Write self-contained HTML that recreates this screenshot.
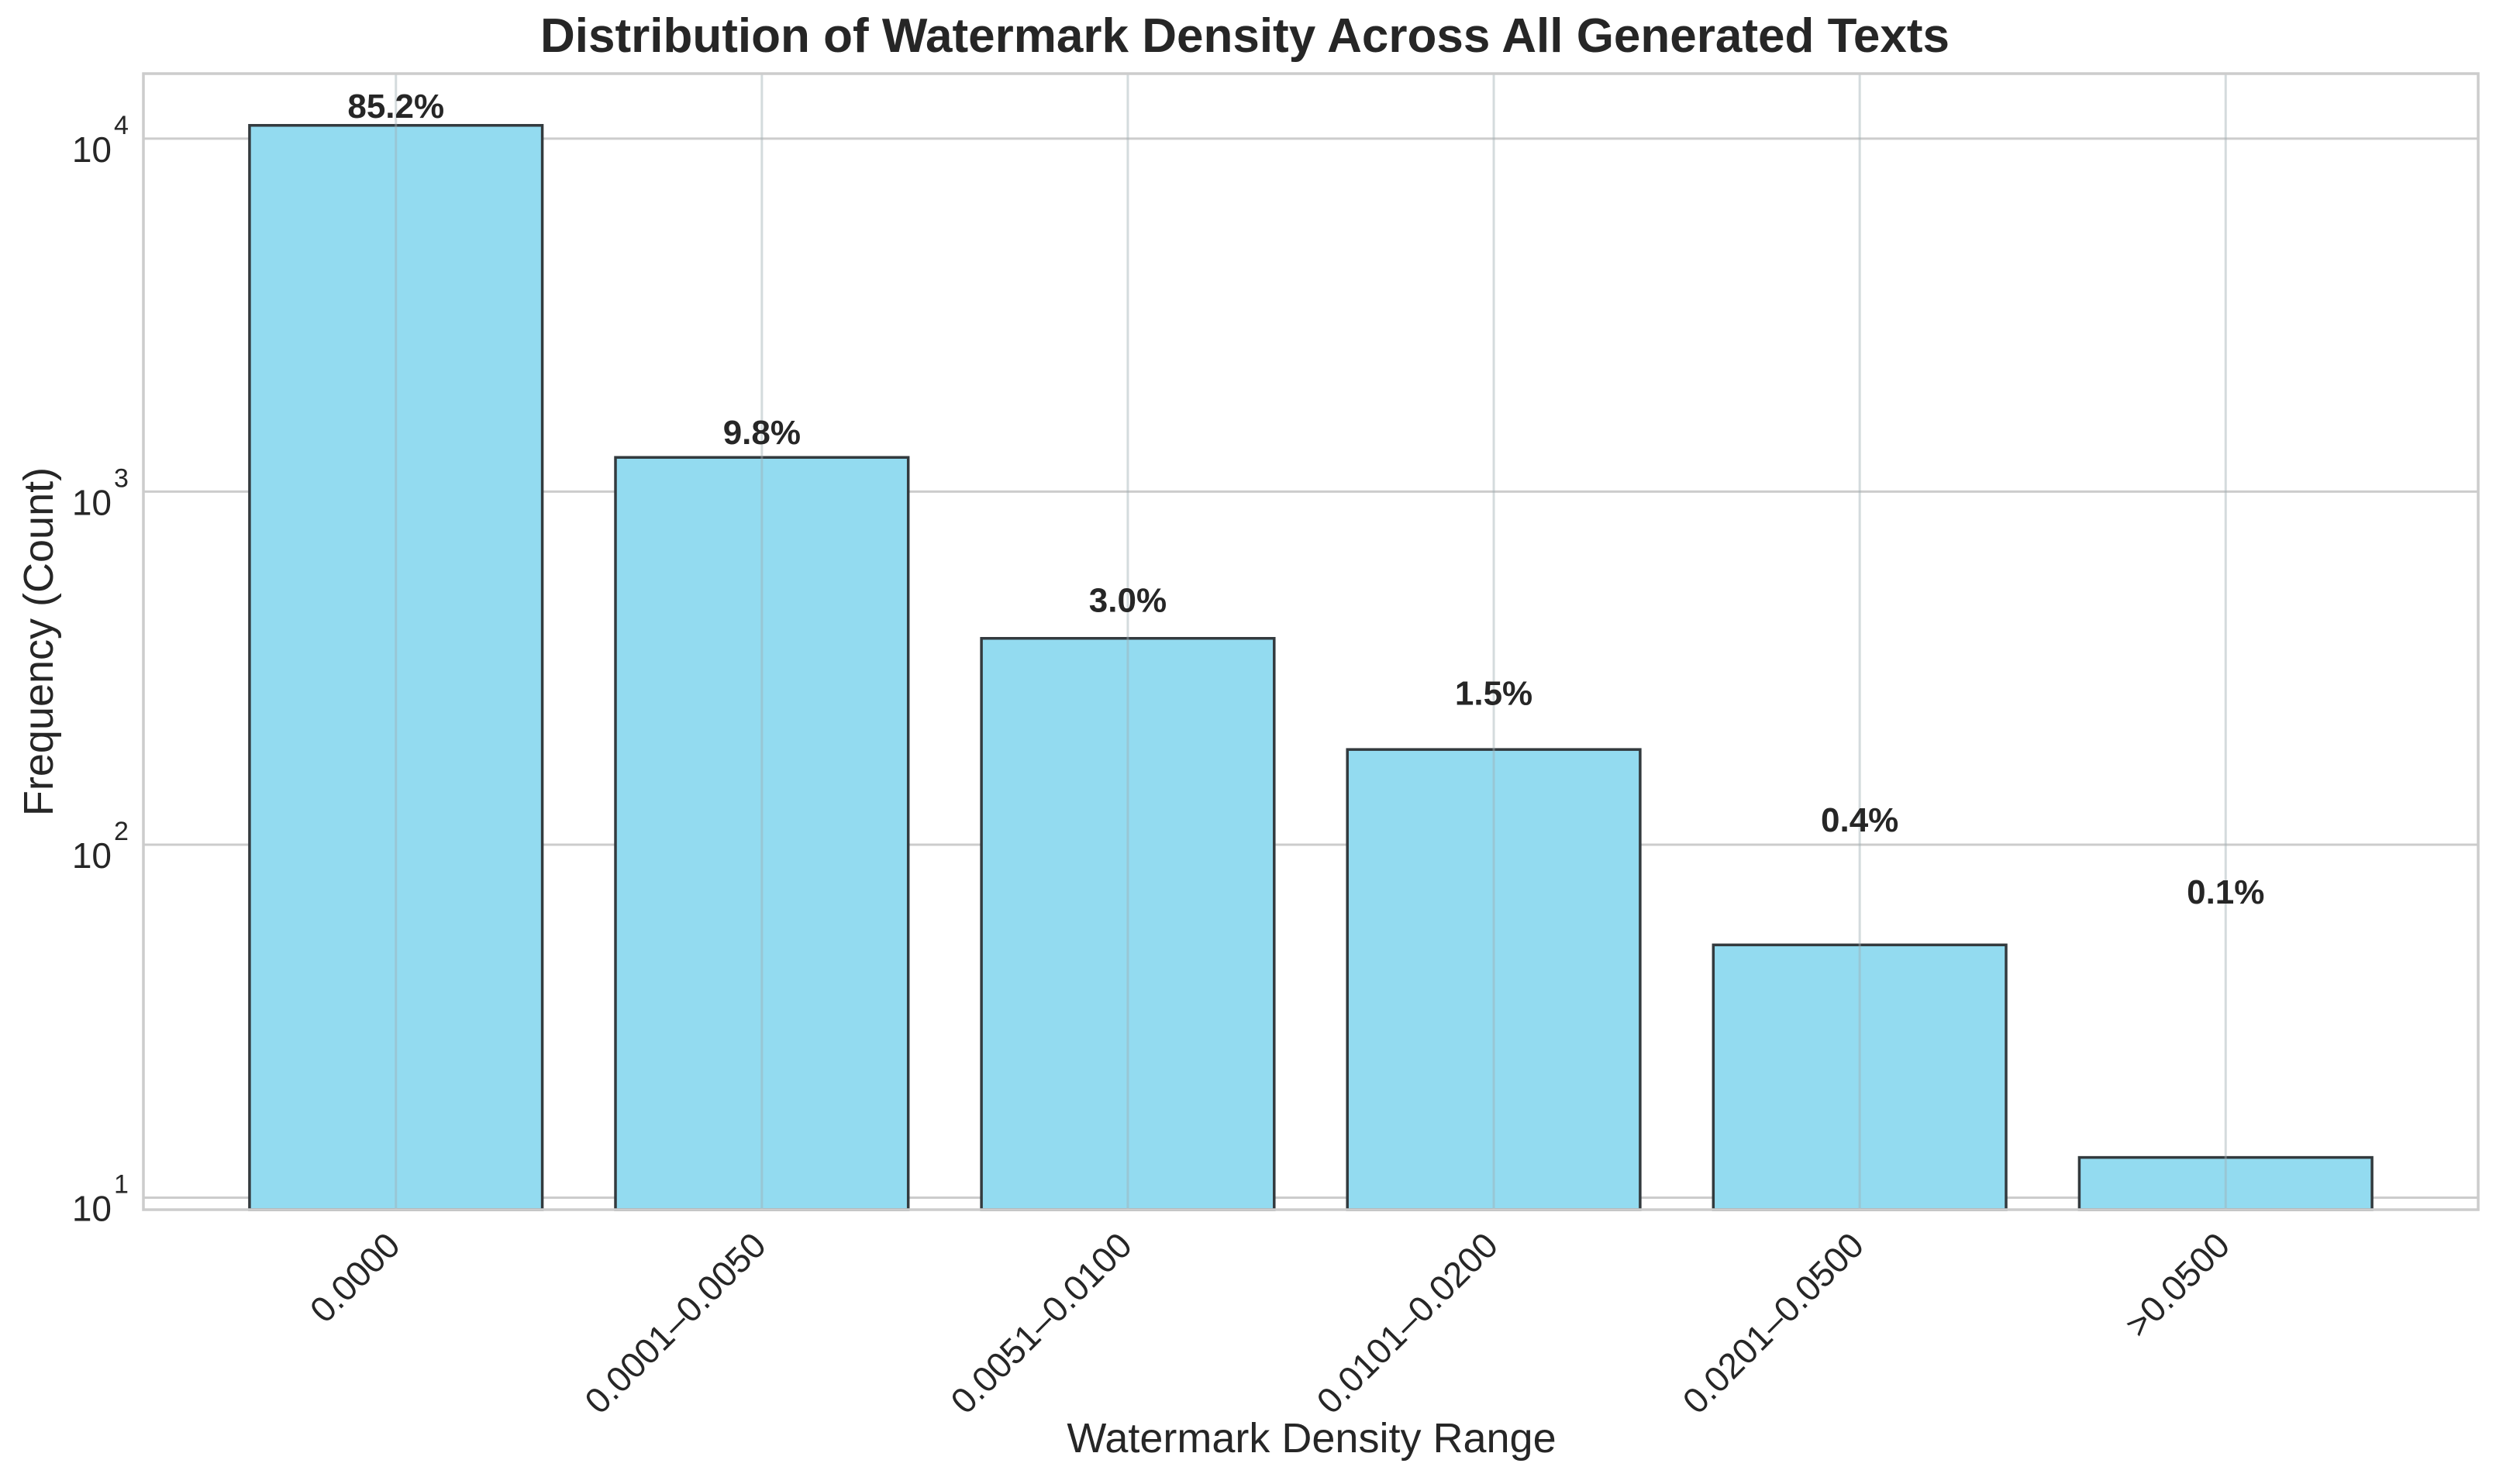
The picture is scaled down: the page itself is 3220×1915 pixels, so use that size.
<!DOCTYPE html>
<html><head><meta charset="utf-8"><style>
html,body{margin:0;padding:0;background:#fff}
svg text{font-family:"Liberation Sans",Arial,sans-serif;fill:#262626}
</style></head><body>
<svg id="chart" width="3220" height="1910" viewBox="0 0 3220 1910" xmlns="http://www.w3.org/2000/svg">
<rect width="3220" height="1910" fill="#fff"/>
<text x="1606" y="67" text-anchor="middle" font-size="62" font-weight="bold">Distribution of Watermark Density Across All Generated Texts</text>
<g id="grid"></g>
<g id="bars"></g>
<g id="vgrid"></g>
<g id="labels"></g>
<g id="ticks"></g>
<rect x="185" y="95" width="3012" height="1466" fill="none" stroke="#cccccc" stroke-width="3.5"/>
<text transform="translate(68,828) rotate(-90)" text-anchor="middle" font-size="54">Frequency (Count)</text>
<text x="1692" y="1874" text-anchor="middle" font-size="54">Watermark Density Range</text>
</svg>
<script>
const categories = ["0.0000","0.0001–0.0050","0.0051–0.0100","0.0101–0.0200","0.0201–0.0500",">0.0500"];
const counts = [10900, 1250, 384, 186, 52, 13];
const percentLabels = ["85.2%","9.8%","3.0%","1.5%","0.4%","0.1%"];
const yTickExponents = [1, 2, 3, 4];
const labelOffset = 52;

const NS = "http://www.w3.org/2000/svg";
const xLeft = 185, xRight = 3197, yTop = 95, yBottom = 1561;
const xMin = -0.69, xMax = categories.length - 1 + 0.69;
const logMin = 0.966, logMax = 4.184;
function xScale(i){ return xLeft + (i - xMin) / (xMax - xMin) * (xRight - xLeft); }
function yScale(v){ return yBottom - (Math.log10(v) - logMin) / (logMax - logMin) * (yBottom - yTop); }
function mk(tag, attrs, parent){ const e = document.createElementNS(NS, tag); for (const k in attrs) e.setAttribute(k, attrs[k]); parent.appendChild(e); return e; }

const grid = document.getElementById('grid');
const bars = document.getElementById('bars');
const vgrid = document.getElementById('vgrid');
const labels = document.getElementById('labels');
const ticks = document.getElementById('ticks');
const bw = (xScale(1) - xScale(0)) * 0.8;

yTickExponents.forEach(p => {
  const y = yScale(Math.pow(10, p));
  const gl = mk('line', {x1: xLeft, x2: xRight, y1: y, y2: y, stroke: '#cccccc', 'stroke-width': 3}, grid);
  
  
  const t = mk('text', {x: 144, y: y + 30, 'text-anchor': 'end', 'font-size': 46}, ticks);
  
  
  t.textContent = '10';
  const s = mk('text', {x: 147, y: y - 6, 'text-anchor': 'start', 'font-size': 34}, ticks);
  
  
  s.textContent = String(p);
});

categories.forEach((c, i) => {
  const cx = xScale(i);
  const yv = yScale(counts[i]);
  const r = mk('rect', {x: cx - bw/2, y: yv, width: bw, height: yBottom - yv, fill: '#93dbf0', stroke: '#333a3e', 'stroke-width': 3.5}, bars);
  
  
  const vl = mk('line', {x1: cx, x2: cx, y1: yTop, y2: yBottom, stroke: 'rgba(160,175,180,0.45)', 'stroke-width': 3}, vgrid);
  
  
  const lt = mk('text', {x: cx, y: yScale(counts[i] + labelOffset) - 9, 'text-anchor': 'middle', 'font-size': 44, 'font-weight': 'bold'}, labels);
  
  
  lt.textContent = percentLabels[i];
  const ax = cx + 8, ay = 1610;
  const tl = mk('text', {x: ax, y: ay, 'text-anchor': 'end', 'font-size': 46, transform: 'rotate(-45 ' + ax + ' ' + ay + ')'}, ticks);
  
  
  tl.textContent = c;
});
</script>
</body></html>
